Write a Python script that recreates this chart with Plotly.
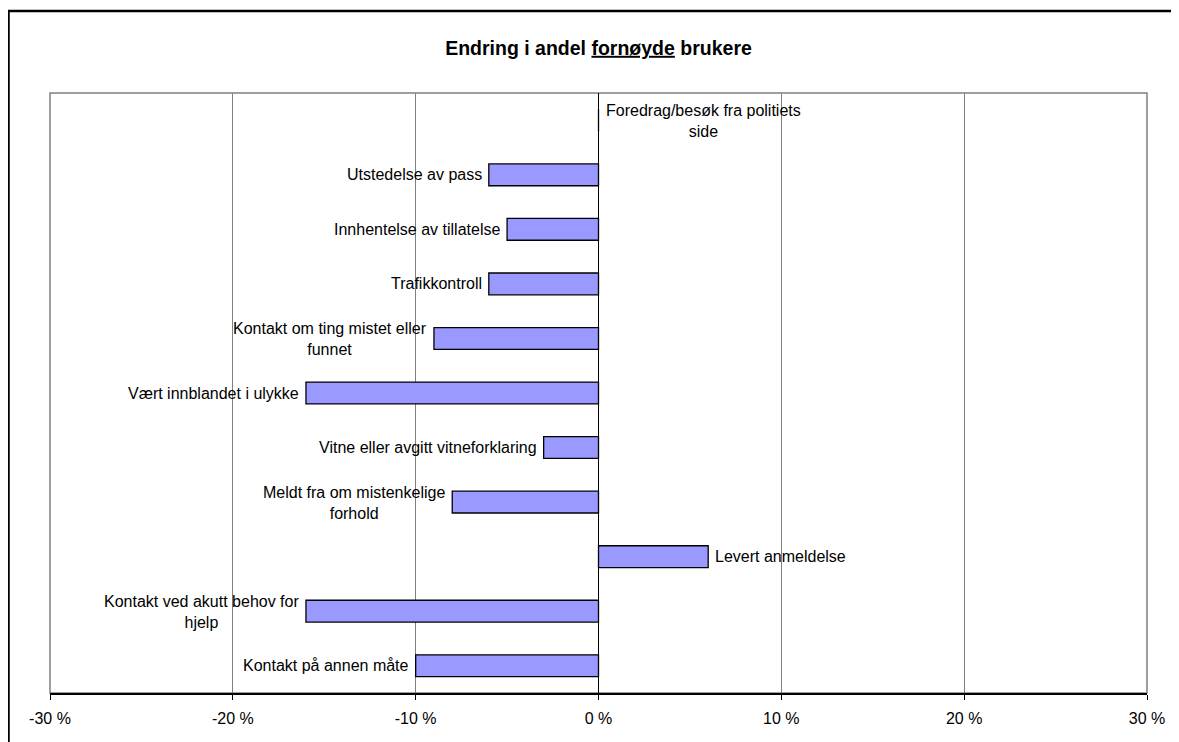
import plotly.graph_objects as go

categories = [
    "Foredrag/besøk fra politiets side",
    "Utstedelse av pass",
    "Innhentelse av tillatelse",
    "Trafikkontroll",
    "Kontakt om ting mistet eller funnet",
    "Vært innblandet i ulykke",
    "Vitne eller avgitt vitneforklaring",
    "Meldt fra om mistenkelige forhold",
    "Levert anmeldelse",
    "Kontakt ved akutt behov for hjelp",
    "Kontakt på annen måte",
]
label_text = [
    "Foredrag/besøk fra politiets<br>side",
    "Utstedelse av pass",
    "Innhentelse av tillatelse",
    "Trafikkontroll",
    "Kontakt om ting mistet eller<br>funnet",
    "Vært innblandet i ulykke",
    "Vitne eller avgitt vitneforklaring",
    "Meldt fra om mistenkelige<br>forhold",
    "Levert anmeldelse",
    "Kontakt ved akutt behov for<br>hjelp",
    "Kontakt på annen måte",
]
values = [0, -6, -5, -6, -9, -16, -3, -8, 6, -16, -10]
tick_vals = [-30, -20, -10, 0, 10, 20, 30]
tick_text = ["-30 %", "-20 %", "-10 %", "0 %", "10 %", "20 %", "30 %"]

FONT = "Liberation Sans, Arial, sans-serif"

# page body has an 8px margin, so the figure is drawn 8px in from the window edge
W, H = 1171, 734
ML, MR, MT, MB = 42, 32, 85, 49
PW, PH = W - ML - MR, H - MT - MB

fig = go.Figure()
fig.add_trace(go.Bar(
    y=categories, x=values, orientation="h", width=0.4,
    marker=dict(color="#9999FF", line=dict(color="black", width=1.3)),
    hoverinfo="skip",
))

annotations = []
for cat, lab, v in zip(categories, label_text, values):
    neg = v < 0
    two = "<br>" in lab
    annotations.append(dict(
        x=v, y=cat, xref="x", yref="y", text=lab, showarrow=False,
        xanchor="right" if neg else "left", xshift=-5 if neg else 5,
        yanchor="middle", yshift=-1 if two else 0, align="center",
        font=dict(family=FONT, size=16, color="black"),
    ))

fig.update_layout(
    width=W, height=H,
    paper_bgcolor="white", plot_bgcolor="white",
    margin=dict(l=ML, r=MR, t=MT, b=MB),
    showlegend=False,
    font=dict(family=FONT, size=16, color="black"),
    title=dict(
        text="<b>Endring i andel <u>fornøyde</u> brukere</b>",
        x=0.5, xref="paper", xanchor="center",
        y=1 - 40 / H, yref="container", yanchor="middle",
        font=dict(family=FONT, size=19.5, color="black"),
    ),
    xaxis=dict(
        range=[-30, 30], tickvals=tick_vals, ticktext=tick_text,
        showgrid=True, gridcolor="#808080", gridwidth=1,
        zeroline=True, zerolinecolor="black", zerolinewidth=1,
        showline=True, linecolor="black", linewidth=1.5,
        ticks="outside", ticklen=5, tickcolor="black", tickwidth=1,
        ticklabelstandoff=5,
        tickfont=dict(family=FONT, size=16, color="black"),
        fixedrange=True,
    ),
    yaxis=dict(
        range=[10.5, -0.5], showticklabels=False, showgrid=False,
        zeroline=False, showline=False, ticks="", fixedrange=True,
    ),
    annotations=annotations,
    shapes=[
        dict(type="rect", xref="paper", yref="paper", x0=0, x1=1, y0=0, y1=1,
             line=dict(color="#808080", width=1.5), layer="below"),
        dict(type="rect", xref="paper", yref="paper",
             x0=(0.5 - ML) / PW, x1=(W + 20 - ML) / PW,
             y0=-(MB + 20) / PH, y1=(PH + MT - 3) / PH,
             line=dict(color="black", width=2.5), layer="above"),
    ],
)

fig.write_html("out.html")
